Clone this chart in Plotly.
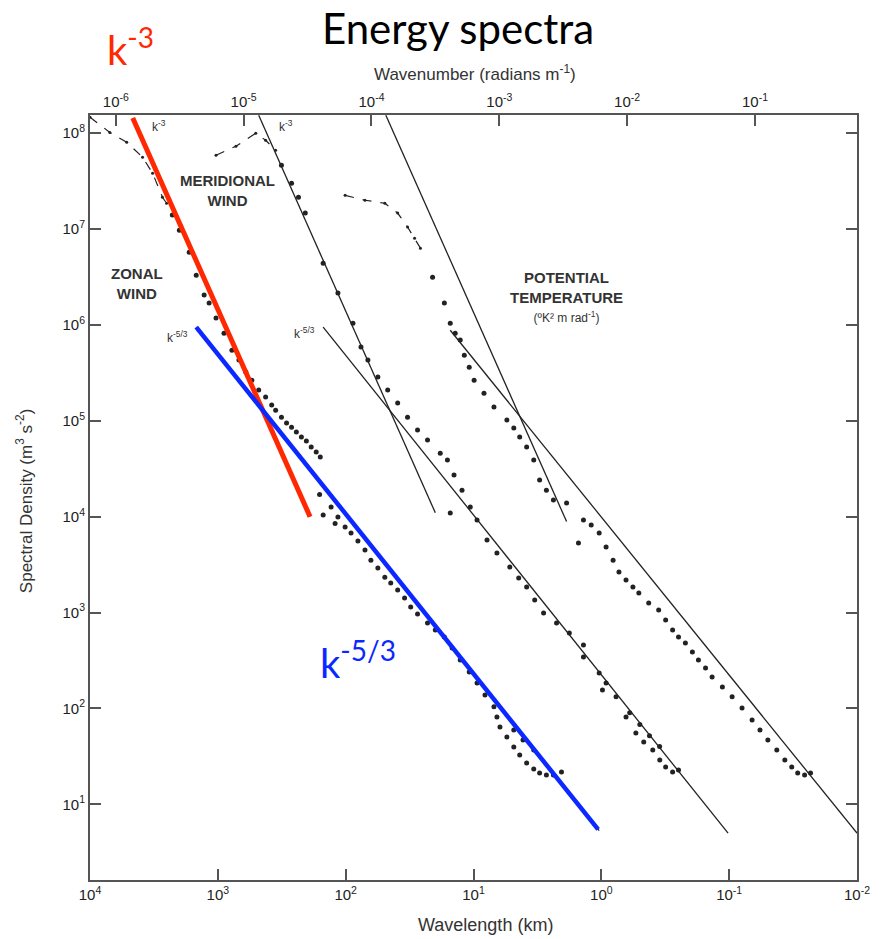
import numpy as np
import plotly.graph_objects as go

# ---------------- data (wavelength in km, spectral density) ----------------
zonal_dash_lam = [10000, 7000, 5160, 3880, 3240, 2710, 2520]
zonal_dash_S = [1.47e8, 1.02e8, 8.05e7, 5.62e7, 3.83e7, 2.15e7, 1.86e7]

zonal_lam = [2270, 2000, 1675, 1476, 1280, 1170, 1033, 895, 776, 684,
             604, 542, 479, 423, 379, 353, 318, 290, 265, 243,
             222, 203, 186, 170, 158, 160, 150, 130, 121, 115,
             101, 90.8, 80.2, 70.6, 63.5, 56.0, 49.4, 44.4, 39.2, 34.6,
             31.0, 27.4, 22.9, 19.9, 16.9, 14.7, 12.7, 10.8, 9.38, 8.13,
             6.92, 6.56, 6.21, 5.48, 4.84, 4.35, 3.84, 3.38, 3.04, 2.69,
             2.37, 2.05, 4.84, 4.1, 3.38]
zonal_S = [1.40e7, 9.75e6, 5.74e6, 3.30e6, 2.05e6, 1.69e6, 1.18e6, 8.21e5, 5.46e5, 4.30e5,
           3.22e5, 2.65e5, 2.09e5, 1.77e5, 1.46e5, 1.29e5, 1.09e5, 9.46e4, 8.59e4, 7.62e4,
           6.76e4, 6.14e4, 5.32e4, 4.72e4, 4.18e4, 1.7e4, 1.04e4, 1.26e4, 8.5e3, 9.91e3,
           7.80e3, 6.75e3, 5.57e3, 4.49e3, 3.52e3, 2.91e3, 2.34e3, 2.03e3, 1.72e3, 1.42e3,
           1.14e3, 964, 778, 658, 556, 427, 320, 240, 184, 138,
           104, 81.3, 64.0, 50.3, 39.5, 32.7, 27.0, 23.3, 21.2, 20.2,
           20.2, 21.7, 59.6, 46.8, 36.8]

merid_dash_lam = [1033, 722, 505, 423, 353]
merid_dash_S = [5.90e7, 7.31e7, 1.0e8, 8.45e7, 6.65e7]

merid_lam = [318, 265, 234, 207, 150, 115, 87.7, 75.9, 67.0, 56.0,
             46.9, 39.2, 32.8, 27.4, 22.9, 18.2, 16.0, 14.2, 12.3, 10.6,
             15.2, 9.38, 7.84, 6.56, 5.20, 4.43, 3.84, 3.32, 2.83, 2.24,
             1.78, 1.38, 1.38, 1.04, 0.918, 0.98, 0.767, 0.641, 0.537, 0.466,
             0.396, 0.349, 0.314, 0.277, 0.249, 0.60, 0.50, 0.42, 0.35]
merid_S = [4.64e7, 3.01e7, 2.15e7, 1.47e7, 4.41e6, 2.15e6, 1.04e6, 5.87e5, 4.30e5, 2.86e5,
           2.09e5, 1.53e5, 1.09e5, 8.0e4, 6.30e4, 4.60e4, 3.89e4, 2.72e4, 1.89e4, 1.26e4,
           1.09e4, 9.23e3, 5.70e3, 4.17e3, 2.98e3, 2.29e3, 1.85e3, 1.35e3, 988, 778,
           611, 458, 344, 234, 184, 156, 132, 81.3, 55.3, 44.6,
           36.8, 29.0, 24.5, 21.7, 22.8, 90, 68, 52, 40]

pt_dash_lam = [101, 70.6, 49.4, 39.2, 32.8, 28.9, 26.0]
pt_dash_S = [2.25e7, 2.0e7, 1.86e7, 1.47e7, 1.05e7, 8.04e6, 6.32e6]

pt_lam = [20.9, 16.9, 15.2, 13.9, 12.7, 11.8, 10.8, 9.89, 8.28, 6.92,
          5.48, 4.84, 4.35, 3.84, 3.38, 3.04, 2.69, 2.37, 1.87, 1.51,
          1.38, 1.20, 1.04, 0.918, 0.809, 0.728, 0.641, 0.566, 0.509, 0.426,
          0.356, 0.314, 0.277, 0.249, 0.220, 0.194, 0.174, 0.153, 0.136, 0.113,
          0.0948, 0.0793, 0.0662, 0.0574, 0.0498, 0.0424, 0.0367, 0.0324, 0.0291, 0.0257,
          0.0231]
pt_S = [3.15e6, 1.69e6, 1.04e6, 8.21e5, 6.95e5, 4.84e5, 3.63e5, 2.65e5, 1.94e5, 1.39e5,
        1.02e5, 8.39e4, 6.76e4, 5.32e4, 3.89e4, 2.41e4, 1.89e4, 1.49e4, 1.39e4, 5.31e3,
        9.23e3, 8.17e3, 6.75e3, 4.82e3, 3.52e3, 2.64e3, 2.18e3, 1.85e3, 1.60e3, 1.26e3,
        1.06e3, 836, 658, 556, 481, 387, 320, 264, 213, 167,
        132, 101, 75.7, 59.6, 46.8, 36.8, 29.0, 24.5, 21.2, 20.2,
        21.2]

# reference power-law lines (end points)
zonal_k3_lam = [4630, 190]
zonal_k3_S = [1.44e8, 1.0e4]
zonal_k53_lam = [1476, 1.04]
zonal_k53_S = [9.5e5, 5.3]
merid_k3_lam = [479, 19.9]
merid_k3_S = [1.54e8, 1.10e4]
merid_k53_lam = [150, 0.102]
merid_k53_S = [9.5e5, 5.0]
pt_k3_lam = [48.5, 1.87]
pt_k3_S = [1.54e8, 8.9e3]
pt_k53_lam = [15.2, 0.01]
pt_k53_S = [8.8e5, 5.0]

red_lam = [4630, 190]
red_S = [1.44e8, 1.0e4]
blue_lam = [1476, 1.06]
blue_S = [9.5e5, 5.46]

# ticks
wavelength_ticks = [1e4, 1e3, 1e2, 1e1, 1e0, 1e-1, 1e-2]
wavelength_labels = ["10<sup>4</sup>", "10<sup>3</sup>", "10<sup>2</sup>", "10<sup>1</sup>",
                     "10<sup>0</sup>", "10<sup>-1</sup>", "10<sup>-2</sup>"]
wavenumber_ticks = [1e-6, 1e-5, 1e-4, 1e-3, 1e-2, 1e-1]
wavenumber_labels = ["10<sup>-6</sup>", "10<sup>-5</sup>", "10<sup>-4</sup>",
                     "10<sup>-3</sup>", "10<sup>-2</sup>", "10<sup>-1</sup>"]
density_ticks = [1e1, 1e2, 1e3, 1e4, 1e5, 1e6, 1e7, 1e8]
density_labels = ["10<sup>1</sup>", "10<sup>2</sup>", "10<sup>3</sup>", "10<sup>4</sup>",
                  "10<sup>5</sup>", "10<sup>6</sup>", "10<sup>7</sup>", "10<sup>8</sup>"]

# ---------------- figure ----------------
INK = "#222222"
AX = "#555555"
fig = go.Figure()


def line(x, y, color=INK, width=1.3, dash=None, xaxis="x"):
    fig.add_trace(go.Scatter(x=x, y=y, mode="lines", xaxis=xaxis,
                             line=dict(color=color, width=width, dash=dash),
                             hoverinfo="skip", showlegend=False))


def dots(x, y, size=5):
    fig.add_trace(go.Scatter(x=x, y=y, mode="markers",
                             marker=dict(color=INK, size=size, line=dict(width=0)),
                             hoverinfo="skip", showlegend=False))


# black reference lines
line(zonal_k3_lam, zonal_k3_S)
line(zonal_k53_lam, zonal_k53_S)
line(merid_k3_lam, merid_k3_S)
line(merid_k53_lam, merid_k53_S)
line(pt_k3_lam, pt_k3_S)
line(pt_k53_lam, pt_k53_S, xaxis="x2")

# dashed large-scale parts
for lx, ly in [(zonal_dash_lam, zonal_dash_S), (merid_dash_lam, merid_dash_S), (pt_dash_lam, pt_dash_S)]:
    line(lx, ly, width=1.2, dash="dash")
    dots(lx, ly, size=3)

# observed spectra
dots(zonal_lam, zonal_S)
dots(merid_lam, merid_S)
dots(pt_lam, pt_S)

# coloured overlay lines
line(red_lam, red_S, color="rgb(255,40,0)", width=5)
line(blue_lam, blue_S, color="rgb(10,40,255)", width=4.5)

SANS = "Liberation Sans, Arial, sans-serif"
tickfont = dict(family=SANS, size=15, color=INK)
axis_common = dict(type="log", ticks="inside", ticklen=11, tickwidth=2, tickcolor=AX,
                   showline=True, linecolor=AX, linewidth=2, showgrid=False,
                   zeroline=False, tickfont=tickfont)

fig.update_layout(
    width=882, height=939,
    margin=dict(l=90, r=19, t=115, b=59),
    paper_bgcolor="white", plot_bgcolor="white",
    showlegend=False,
    xaxis=dict(range=[4, -2], tickvals=wavelength_ticks, ticktext=wavelength_labels,
               **axis_common),
    xaxis2=dict(range=[4, -2], overlaying="x", side="top",
                tickvals=[2 * np.pi / k / 1000 for k in wavenumber_ticks],
                ticktext=wavenumber_labels, **axis_common),
    yaxis=dict(range=[0.21, 8.19], tickvals=density_ticks, ticktext=density_labels,
               mirror="ticks", **axis_common),
)

lab_font = dict(family=SANS, size=15, color="#333333")
small_font = dict(family=SANS, size=12, color="#333333")
ann = []


def add(**kw):
    kw.setdefault("showarrow", False)
    kw.setdefault("xanchor", "center")
    kw.setdefault("yanchor", "middle")
    ann.append(kw)


# in-plot labels (data coords, log10 units)
add(x=2.921, y=7.406, xref="x", yref="y", text="<b>MERIDIONAL<br>WIND</b>",
    font=lab_font, align="center")
add(x=3.635, y=6.436, xref="x", yref="y", text="<b>ZONAL<br>WIND</b>",
    font=lab_font, align="center")
add(x=0.273, y=6.29, xref="x", yref="y",
    text="<b>POTENTIAL<br>TEMPERATURE</b><br><span style='font-size:12px'>(ºK² m rad<sup>-1</sup>)</span>",
    font=lab_font, align="center")
for (lx, ly, t) in [(3.464, 8.073, "k<sup>-3</sup>"), (2.47, 8.073, "k<sup>-3</sup>"),
                    (3.317, 5.873, "k<sup>-5/3</sup>"), (2.323, 5.914, "k<sup>-5/3</sup>")]:
    add(x=lx, y=ly, xref="x", yref="y", text=t, font=small_font)

# coloured labels
calibri = "Lato, Open Sans, sans-serif"
add(x=0.019, y=1.089, xref="paper", yref="paper", xanchor="left",
    text="k<sup>-3</sup>", font=dict(family=calibri, size=40, color="rgb(255,40,0)"))
add(x=2.214, y=2.505, xref="x", yref="y", xanchor="left",
    text="k<sup>-5/3</sup>", font=dict(family=calibri, size=40, color="rgb(10,40,255)"))

# titles
add(x=0.48, y=1.114, xref="paper", yref="paper", text="Energy spectra",
    font=dict(family=calibri, size=42, color="black"))
add(x=0.502, y=1.055, xref="paper", yref="paper",
    text="Wavenumber (radians m<sup>-1</sup>)",
    font=dict(family=SANS, size=17, color="#333333"))
add(x=0.515, y=-0.059, xref="paper", yref="paper",
    text="Wavelength (km)", font=dict(family=SANS, size=18, color="#333333"))
add(x=-0.085, y=0.495, xref="paper", yref="paper", textangle=-90,
    text="Spectral Density (m<sup>3</sup> s<sup>-2</sup>)",
    font=dict(family=SANS, size=17, color="#333333"))
fig.update_layout(annotations=ann)

fig.write_html("out.html")
